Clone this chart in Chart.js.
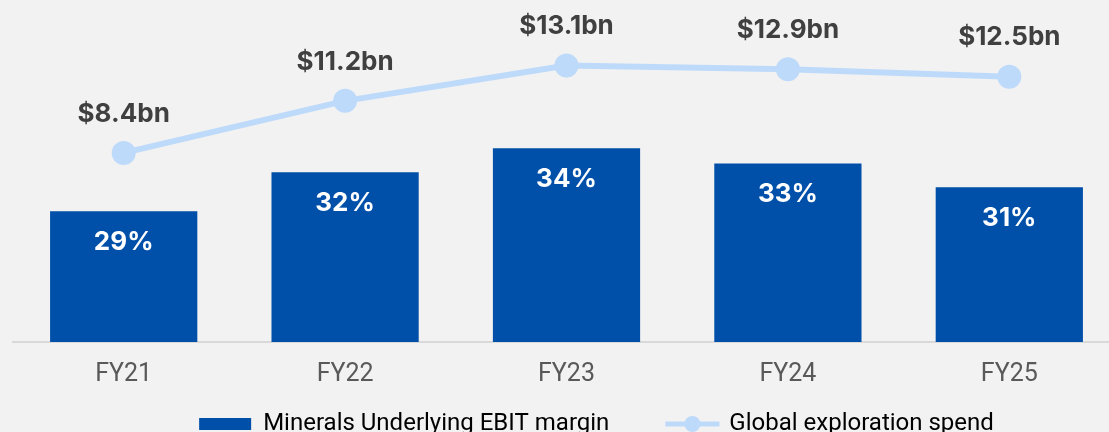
<!DOCTYPE html>
<html>
<head>
<meta charset="utf-8">
<script src="https://cdn.jsdelivr.net/npm/chart.js@4/dist/chart.umd.min.js"></script>
<style>
    html, body { margin: 0; padding: 0; background: #f2f2f2; overflow: hidden; }
    #mineralsChart { display: block; }
</style>
</head>
<body>
<canvas id="mineralsChart" width="1120" height="498"></canvas>
<script>
const years = ['FY21', 'FY22', 'FY23', 'FY24', 'FY25'];
const ebitMargin = [28.9, 32.0, 33.9, 32.7, 30.8];
const explorationSpend = [8.4, 11.2, 13.1, 12.9, 12.5];

const BAR_BLUE = '#004fa9';
const LINE_BLUE = '#bedafa';
const LABEL_FONT = 'Inter, "Noto Sans", sans-serif';
const AXIS_FONT = 'Roboto, "Noto Sans", sans-serif';

// value labels above the points and inside the bars
const valueLabels = {
    id: 'valueLabels',
    afterDatasetsDraw(chart) {
        const ctx = chart.ctx;
        ctx.save();
        ctx.textAlign = 'center';
        ctx.textBaseline = 'middle';
        ctx.font = 'bold 26px ' + LABEL_FONT;

        chart.getDatasetMeta(1).data.forEach((bar, i) => {
            ctx.fillStyle = '#ffffff';
            ctx.fillText(Math.round(ebitMargin[i]) + '%', bar.x, bar.y + 31);
        });

        chart.getDatasetMeta(0).data.forEach((pt, i) => {
            ctx.fillStyle = '#404040';
            ctx.fillText('$' + explorationSpend[i].toFixed(1) + 'bn', pt.x, pt.y - 39);
        });
        ctx.restore();
    },
};

// nudge the legend and draw the line-with-dot marker
const legendTweak = {
    id: 'legendTweak',
    afterLayout(chart) {
        const lg = chart.legend;
        lg.left += 30;
        lg.right += 30;
        lg.top -= 52;
        lg.bottom -= 52;
    },
    afterDraw(chart) {
        const hb = chart.legend.legendHitBoxes[1];
        if (!hb) return;
        const ctx = chart.ctx;
        const y = hb.top + hb.height / 2;
        ctx.save();
        ctx.strokeStyle = LINE_BLUE;
        ctx.lineWidth = 5;
        ctx.beginPath();
        ctx.moveTo(hb.left, y);
        ctx.lineTo(hb.left + 54, y);
        ctx.stroke();
        ctx.fillStyle = LINE_BLUE;
        ctx.beginPath();
        ctx.arc(hb.left + 27, y, 8, 0, Math.PI * 2);
        ctx.fill();
        ctx.restore();
    },
};

new Chart(document.getElementById('mineralsChart'), {
    type: 'bar',
    data: {
        labels: years,
        datasets: [
            {
                type: 'line',
                label: 'Global exploration spend',
                data: explorationSpend,
                yAxisID: 'y1',
                borderColor: LINE_BLUE,
                backgroundColor: LINE_BLUE,
                borderWidth: 6,
                pointRadius: 12,
                pointHoverRadius: 12,
                pointBorderWidth: 0,
                pointBackgroundColor: LINE_BLUE,
                tension: 0,
                clip: false,
                order: 0,
            },
            {
                label: 'Minerals Underlying EBIT margin',
                data: ebitMargin,
                yAxisID: 'y',
                backgroundColor: BAR_BLUE,
                categoryPercentage: 1,
                barPercentage: 0.665,
                order: 1,
            },
        ],
    },
    options: {
        responsive: false,
        animation: false,
        layout: { autoPadding: false, padding: { left: 13, right: 0, top: 0, bottom: 0 } },
        plugins: {
            tooltip: { enabled: false },
            legend: {
                position: 'bottom',
                labels: {
                    color: '#595959',
                    font: { family: AXIS_FONT, size: 24 },
                    boxWidth: 52,
                    boxHeight: 12,
                    padding: 56,
                    generateLabels() {
                        return [
                            {
                                text: 'Minerals Underlying EBIT margin',
                                fillStyle: BAR_BLUE,
                                strokeStyle: BAR_BLUE,
                                lineWidth: 0,
                                datasetIndex: 1,
                            },
                            {
                                text: 'Global exploration spend',
                                fillStyle: 'rgba(0,0,0,0)',
                                strokeStyle: 'rgba(0,0,0,0)',
                                lineWidth: 0,
                                datasetIndex: 0,
                            },
                        ];
                    },
                },
            },
        },
        scales: {
            x: {
                grid: { display: false, drawTicks: false },
                border: { display: true, color: '#d9d9d9', width: 2 },
                ticks: {
                    color: '#595959',
                    font: { family: AXIS_FONT, size: 25 },
                    padding: 18,
                },
            },
            y: {
                display: false,
                min: 18.5,
                max: 45.7,
            },
            y1: {
                display: false,
                min: -1.76,
                max: 16.62,
            },
        },
    },
    plugins: [valueLabels, legendTweak],
});
</script>
</body>
</html>
